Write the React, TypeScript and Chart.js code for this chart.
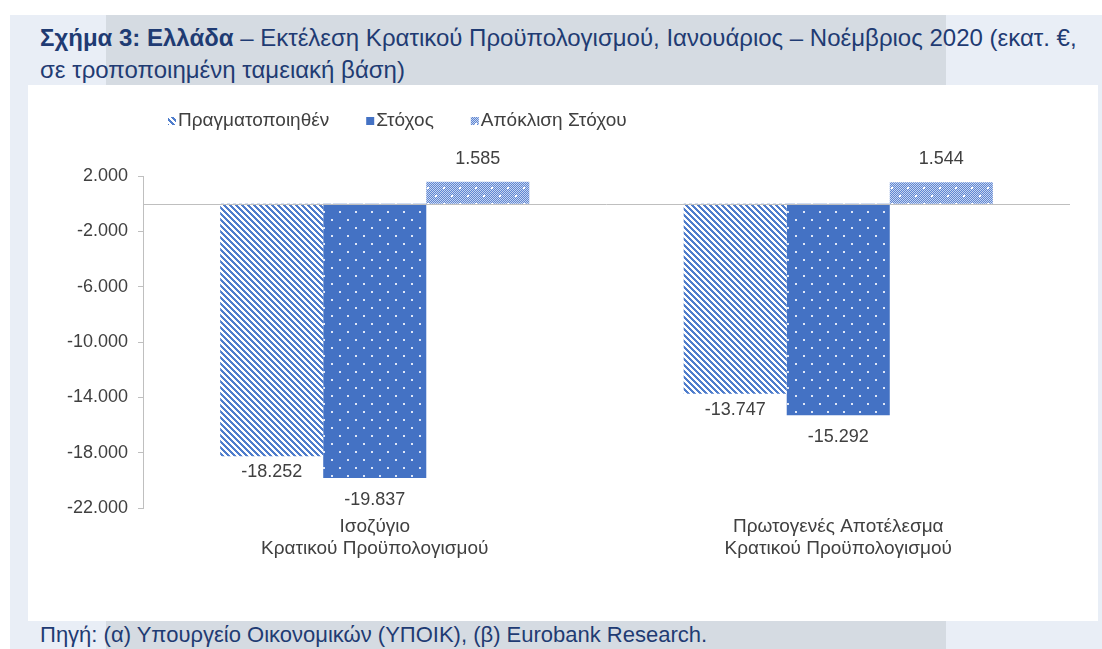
import React, { useEffect, useRef } from "react";
import { Chart, registerables } from "chart.js";

Chart.register(...registerables);

const CATEGORIES = [
  ["Ισοζύγιο", "Κρατικού Προϋπολογισμού"],
  ["Πρωτογενές Αποτέλεσμα", "Κρατικού Προϋπολογισμού"],
];
const SERIES_NAMES = ["Πραγματοποιηθέν", "Στόχος", "Απόκλιση Στόχου"];
const ACTUAL = [-18252, -13747];
const TARGET = [-19837, -15292];
const DEVIATION = [1585, 1544];
const Y_TICKS = [-22000, -18000, -14000, -10000, -6000, -2000, 2000];

const BLUE = "#4472c4";
const TEXT = "#404040";
const NAVY = "#1f3b73";
const FONT = "'Liberation Sans', Arial, sans-serif";

function fmt(v: number): string {
  const s = Math.abs(Math.round(v)).toString().replace(/\B(?=(\d{3})+(?!\d))/g, ".");
  return (v < 0 ? "-" : "") + s;
}

function makePattern(size: number, fn: (x: number, y: number) => string): CanvasPattern | string {
  const c = document.createElement("canvas");
  c.width = size;
  c.height = size;
  const ctx = c.getContext("2d");
  if (!ctx) return BLUE;
  for (let y = 0; y < size; y++) {
    for (let x = 0; x < size; x++) {
      ctx.fillStyle = fn(x, y);
      ctx.fillRect(x, y, 1, 1);
    }
  }
  const p = ctx.createPattern(c, "repeat");
  return p || BLUE;
}

function isDot(x: number, y: number): boolean {
  const a = x >= 3 && x <= 4 && y >= 3 && y <= 4;
  const b = x >= 11 && x <= 12 && y >= 11 && y <= 12;
  return a || b;
}

export default function App() {
  const ref = useRef<HTMLCanvasElement | null>(null);

  useEffect(() => {
    if (!ref.current) return;
    const stripes = makePattern(6, (x, y) => ((((x - y) % 6) + 6) % 6 < 3 ? "#4f7dcc" : "#ffffff"));
    const dots = makePattern(16, (x, y) => (isDot(x, y) ? "#dfe7f7" : BLUE));
    const checker = makePattern(16, (x, y) =>
      isDot(x, y) ? "#ffffff" : (x + y) % 2 ? "#5f86d2" : "#c6d5f1"
    );
    const fills = [stripes, dots, checker];

    const labelOffsetNeg = [16, 22, 20];
    const labelOffsetPos = [23, 23, 23];

    const overlay = {
      id: "overlay",
      afterDatasetsDraw(chart: any) {
        const ctx = chart.ctx;
        const area = chart.chartArea;
        const y0 = Math.round(chart.scales.y.getPixelForValue(0)) + 0.5;
        ctx.save();
        ctx.strokeStyle = "#bfbfbf";
        ctx.lineWidth = 1;
        ctx.beginPath();
        ctx.moveTo(area.left, y0);
        ctx.lineTo(area.right, y0);
        ctx.stroke();

        ctx.font = `18px ${FONT}`;
        ctx.fillStyle = TEXT;
        ctx.textAlign = "center";
        ctx.textBaseline = "middle";
        chart.data.datasets.forEach((ds: any, di: number) => {
          const meta = chart.getDatasetMeta(di);
          meta.data.forEach((el: any, i: number) => {
            const v = ds.data[i] as number;
            const ty = v < 0 ? el.y + labelOffsetNeg[di] : el.y - labelOffsetPos[di];
            ctx.fillText(fmt(v), el.x, ty);
          });
        });
        ctx.restore();
      },
      afterDraw(chart: any) {
        const ctx = chart.ctx;
        ctx.save();
        ctx.font = `19px ${FONT}`;
        ctx.textBaseline = "middle";
        ctx.textAlign = "left";
        let x = 168;
        const cy = 121;
        chart.data.datasets.forEach((ds: any) => {
          ctx.fillStyle = ds.backgroundColor;
          ctx.fillRect(x, cy - 4, 8, 8);
          ctx.fillStyle = TEXT;
          ctx.fillText(ds.label, x + 10, cy);
          x += 10 + ctx.measureText(ds.label).width + 37;
        });
        ctx.restore();
      },
    };

    const chart = new Chart(ref.current, {
      type: "bar",
      data: {
        labels: CATEGORIES as any,
        datasets: [
          { label: SERIES_NAMES[0], data: ACTUAL, backgroundColor: fills[0] as any },
          { label: SERIES_NAMES[1], data: TARGET, backgroundColor: fills[1] as any },
          { label: SERIES_NAMES[2], data: DEVIATION, backgroundColor: fills[2] as any },
        ],
      },
      options: {
        responsive: false,
        animation: false,
        layout: { padding: { left: 0, top: 176, right: 32, bottom: 649 - 508 - 70 } },
        datasets: { bar: { categoryPercentage: 0.667, barPercentage: 1, borderWidth: 0 } },
        plugins: {
          legend: { display: false },
          tooltip: { enabled: false },
          title: { display: false },
        },
        scales: {
          x: {
            grid: { display: false, drawTicks: false },
            border: { display: false },
            ticks: {
              color: TEXT,
              padding: 7,
              maxRotation: 0,
              autoSkip: false,
              font: { family: FONT, size: 19, lineHeight: 1.2 },
            },
            afterFit: (s: any) => {
              s.height = 70;
            },
          },
          y: {
            min: -22000,
            max: 2000,
            afterBuildTicks: (s: any) => {
              s.ticks = Y_TICKS.map((v) => ({ value: v }));
            },
            ticks: {
              color: TEXT,
              padding: 10,
              font: { family: FONT, size: 18 },
              callback: (v: any) => fmt(Number(v)),
            },
            grid: { drawOnChartArea: false, drawTicks: true, tickLength: 5, color: "#bfbfbf" },
            border: { display: true, color: "#bfbfbf" },
            afterFit: (s: any) => {
              s.width = 143;
            },
          },
        },
      },
      plugins: [overlay],
    });
    return () => chart.destroy();
  }, []);

  return (
    <div style={{ position: "absolute", left: 0, top: 0, width: 1102, height: 649, background: "#ffffff", overflow: "hidden" }}>
      <div style={{ position: "absolute", left: 10, top: 15, width: 1092, height: 634, background: "#e9eef6" }} />
      <div style={{ position: "absolute", left: 106, top: 15, width: 840, height: 70, background: "#d5dbe2" }} />
      <div style={{ position: "absolute", left: 106, top: 621, width: 840, height: 28, background: "#d5dbe2" }} />
      <div style={{ position: "absolute", left: 28, top: 85, width: 1070, height: 536, background: "#ffffff" }} />
      <div
        style={{
          position: "absolute",
          left: 40,
          top: 22,
          fontFamily: FONT,
          fontSize: 24,
          lineHeight: "32px",
          color: NAVY,
          whiteSpace: "nowrap",
        }}
      >
        <b>Σχήμα 3: Ελλάδα</b> – Εκτέλεση Κρατικού Προϋπολογισμού, Ιανουάριος – Νοέμβριος 2020 (εκατ. €,
        <br />
        σε τροποποιημένη ταμειακή βάση)
      </div>
      <div
        style={{
          position: "absolute",
          left: 40,
          top: 621,
          fontFamily: FONT,
          fontSize: 22,
          lineHeight: "28px",
          color: NAVY,
          whiteSpace: "nowrap",
        }}
      >
        Πηγή: (α) Υπουργείο Οικονομικών (ΥΠΟΙΚ), (β) Eurobank Research.
      </div>
      <canvas ref={ref} width={1102} height={649} style={{ position: "absolute", left: 0, top: 0, display: "block" }} />
    </div>
  );
}
